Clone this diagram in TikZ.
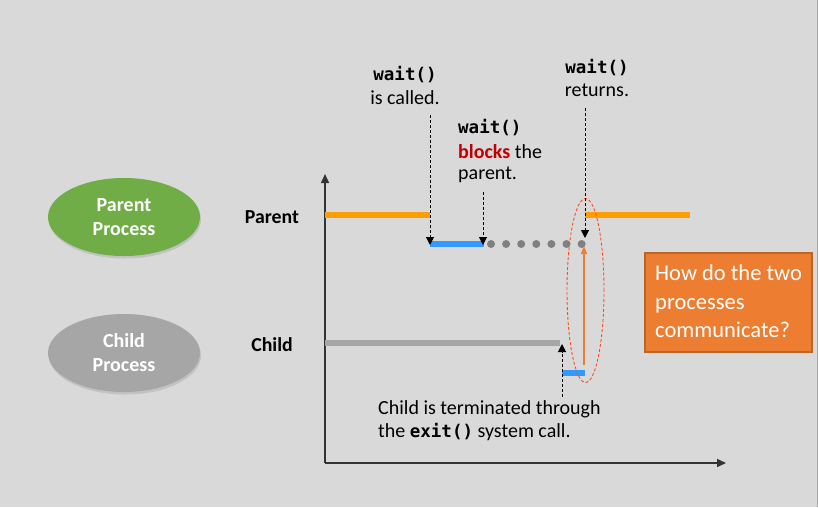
\documentclass[tikz,border=0pt]{standalone}
\usepackage{fontspec}
\setmainfont{Carlito}
\newfontfamily\codefont{DejaVu Sans Mono}[BoldFont={DejaVu Sans Mono Bold}]
\usetikzlibrary{arrows.meta,shapes.geometric,shadows}
\definecolor{bgc}{HTML}{D9D9D9}
\definecolor{porange}{HTML}{FF9E00}
\definecolor{pblue}{HTML}{3399FF}
\definecolor{pgray}{HTML}{A6A6A6}
\definecolor{dotgray}{HTML}{808080}
\definecolor{pgreen}{HTML}{70AD47}
\definecolor{boxorange}{HTML}{ED7D31}
\definecolor{boxborder}{HTML}{C55A11}
\definecolor{redtxt}{HTML}{C00000}
\definecolor{ellred}{HTML}{FF4C1F}
\newcommand{\code}[1]{{\codefont\fontsize{17.5}{21}\selectfont\bfseries #1}}
\tikzset{
  txt/.style={inner sep=0pt, font=\fontsize{20}{23}\selectfont, text=black},
  lbl/.style={inner sep=0pt, font=\fontsize{19.8}{23}\selectfont\bfseries, text=black},
  proc/.style={ellipse, minimum width=152pt, minimum height=78pt, inner sep=0pt, align=center,
     text=white, font=\fontsize{20}{24}\selectfont\bfseries,
     drop shadow={opacity=0.25, shadow xshift=1pt, shadow yshift=-2.5pt}},
  bar/.style={line width=6pt},
  pointer/.style={draw=black, line width=1pt, dash pattern=on 3pt off 2pt, -{Triangle[length=8pt,width=8pt]}},
  axis/.style={draw=black!80, line width=1.5pt, -{Triangle[length=9pt,width=8pt]}},
  gdot/.style={circle, fill=dotgray, minimum size=8pt, inner sep=0pt},
}
\begin{document}
\begin{tikzpicture}[x=1pt,y=-1pt]
\fill[bgc] (0,0) rectangle (818,507);
\useasboundingbox (0,0) rectangle (818,507);
\draw[gray!70, line width=1pt] (817.5,0) -- (817.5,507);

% process ellipses
\node[proc, fill=pgreen] (pp) at (124,217) {Parent\\Process};
\node[proc, fill=pgray] (cp) at (124,353) {Child\\Process};
\node[lbl] (plbl) at (272,217) {Parent};
\node[lbl] (clbl) at (272,345) {Child};

% axes
\coordinate (o) at (325,463);
\coordinate (ytop) at (325,174);
\coordinate (xend) at (726,463);
\draw[axis] (o) -- (ytop);
\draw[axis] (o) -- (xend);

% timeline coordinates
\coordinate (p0) at (325,215);
\coordinate (p1) at (430,215);
\coordinate (p2) at (585,215);
\coordinate (p3) at (690,215);
\coordinate (b0) at (430,244);
\coordinate (b1) at (484,244);
\coordinate (c0) at (325,343);
\coordinate (c1) at (560,343);
\coordinate (e0) at (562,373);
\coordinate (e1) at (585,373);

\draw[bar, porange] (p0) -- (p1);
\draw[bar, porange] (p2) -- (p3);
\draw[bar, pblue] (b0) -- (b1);
\draw[bar, pgray] (c0) -- (c1);
\draw[bar, pblue] (e0) -- (e1);

% gray dots
\foreach \i in {0,...,6} {
  \node[gdot] (d\i) at ({491+15.1*\i},244) {};
}

% red dashed ellipse
\node[ellipse, draw=ellred, dashed, dash pattern=on 3pt off 2pt, line width=0.9pt,
      minimum width=37pt, minimum height=184pt, inner sep=0pt] (ring) at (585.5,290.5) {};

% orange arrow (communication)
\coordinate (oa0) at (584,365);
\coordinate (oa1) at (584,246);
\draw[boxorange, line width=1.6pt, -{Triangle[length=8pt,width=6pt]}] (oa0) -- (oa1);

% annotations
\node[txt] (t1a) at (405,75) {\code{wait()}};
\node[txt] (t1b) at (405,98) {is called.};
\node[txt, anchor=west] (t2a) at (458,128) {\code{wait()}};
\node[txt, anchor=west] (t2b) at (458,152) {{\bfseries\color{redtxt}blocks} the};
\node[txt, anchor=west] (t2c) at (458,175) {parent.};
\node[txt] (t3a) at (597,68) {\code{wait()}};
\node[txt] (t3b) at (597,90) {returns.};
\node[txt, anchor=west] (t4a) at (378,409) {Child is terminated through};
\node[txt, anchor=west] (t4b) at (378,432) {the \code{exit()} system call.};

\coordinate (a1s) at (430,115);
\coordinate (a1e) at (430,245);
\coordinate (a2s) at (483,192);
\coordinate (a2e) at (483,245);
\coordinate (a3s) at (585,108);
\coordinate (a3e) at (585,238);
\coordinate (a4s) at (562,397);
\coordinate (a4e) at (562,344);
\draw[pointer] (a1s) -- (a1e);
\draw[pointer] (a2s) -- (a2e);
\draw[pointer] (a3s) -- (a3e);
\draw[pointer] (a4s) -- (a4e);

% question box
\node[draw=boxorange!80!black, line width=1.5pt, fill=boxorange, minimum width=167pt, minimum height=99pt,
      inner sep=0pt] (qbox) at (728.5,302.5) {};
\node[anchor=north west, inner sep=0pt, text=white, align=left,
      font=\fontsize{22.5}{28.5}\selectfont] (qtxt) at (655,265) {How do the two\\processes\\communicate?};
\end{tikzpicture}
\end{document}
